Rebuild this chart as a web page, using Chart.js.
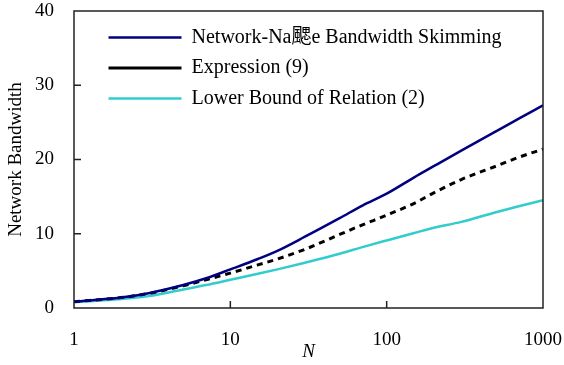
<!DOCTYPE html>
<html>
<head>
<meta charset="utf-8">
<script src="https://cdn.jsdelivr.net/npm/chart.js@4"></script>
<style>
  html, body { margin: 0; padding: 0; background: #fff; }
  #wrap { width: 564px; height: 365px; }
</style>
</head>
<body>
<div id="wrap"><canvas id="myChart"></canvas></div>
<script>
/*global Chart*/

const nValues = [1, 2, 3, 5, 7, 10, 15, 20, 30, 50, 70, 100, 150, 200, 300, 500, 700, 1000];
const naiveValues = [0.85, 1.4, 2.0, 3.1, 4.0, 5.2, 6.6, 7.7, 9.6, 12.1, 13.8, 15.4, 17.6, 19.1, 21.2, 23.8, 25.5, 27.3];
const expressionValues = [0.85, 1.4, 1.95, 3.0, 3.8, 4.7, 5.8, 6.6, 7.9, 9.9, 11.2, 12.5, 14.1, 15.5, 17.3, 19.1, 20.3, 21.4];
const lowerBoundValues = [0.8, 1.2, 1.6, 2.5, 3.1, 3.8, 4.6, 5.2, 6.1, 7.3, 8.2, 9.1, 10.1, 10.8, 11.6, 12.9, 13.7, 14.5];
const xTicks = [1, 10, 100, 1000];
const yTicks = [0, 10, 20, 30, 40];

const serif = "'Liberation Serif', 'Times New Roman', 'Noto Sans CJK TC', serif";

const toPoints = (vals) => nValues.map((n, i) => ({x: n, y: vals[i]}));

const data = {
    datasets: [
        {
            label: 'Network-Na颸e Bandwidth Skimming',
            data: toPoints(naiveValues),
            borderColor: '#000080',
            backgroundColor: '#000080',
            borderWidth: 2.5,
        },
        {
            label: 'Expression (9)',
            data: toPoints(expressionValues),
            borderColor: '#000000',
            backgroundColor: '#000000',
            borderWidth: 3,
            borderDash: [6, 5],
        },
        {
            label: 'Lower Bound of Relation (2)',
            data: toPoints(lowerBoundValues),
            borderColor: '#33CCCC',
            backgroundColor: '#33CCCC',
            borderWidth: 2.5,
        }
    ]
};

// frame, inward ticks, and legend placement
const framePlugin = {
    id: 'frame',
    afterLayout(chart) {
        if (chart.legend) {
            chart.legend.left = chart.chartArea.left + 24;
            chart.legend.top = chart.chartArea.top + 6;
        }
    },
    afterDraw(chart) {
        const {ctx, chartArea: a, scales} = chart;
        ctx.save();
        ctx.strokeStyle = '#222';
        ctx.lineWidth = 1.5;
        ctx.strokeRect(a.left, a.top, a.right - a.left, a.bottom - a.top);
        ctx.beginPath();
        yTicks.slice(1, -1).forEach(v => {
            const y = scales.y.getPixelForValue(v);
            ctx.moveTo(a.left, y);
            ctx.lineTo(a.left + 7, y);
        });
        xTicks.slice(1, -1).forEach(v => {
            const x = scales.x.getPixelForValue(v);
            ctx.moveTo(x, a.bottom);
            ctx.lineTo(x, a.bottom - 7);
        });
        ctx.stroke();
        ctx.restore();
    }
};

const config = {
    type: 'line',
    data: data,
    options: {
        responsive: true,
        maintainAspectRatio: false,
        animation: false,
        layout: {
            padding: 0
        },
        elements: {
            point: {radius: 0},
            line: {cubicInterpolationMode: 'monotone'}
        },
        scales: {
            x: {
                type: 'logarithmic',
                min: 1,
                max: 1000,
                afterBuildTicks: (scale) => {
                    scale.ticks = xTicks.map(v => ({value: v}));
                },
                afterFit: (scale) => {
                    scale.height = 57;
                    scale.paddingRight = 21;
                },
                grid: {display: false},
                border: {display: false},
                ticks: {
                    padding: 13,
                    color: '#000',
                    maxRotation: 0,
                    font: {family: serif, size: 19},
                    callback: (v) => String(v)
                },
                title: {
                    display: true,
                    text: 'N',
                    color: '#000',
                    padding: {top: 0, bottom: 2},
                    font: {family: serif, size: 19, style: 'italic'}
                }
            },
            y: {
                min: 0,
                max: 40,
                afterBuildTicks: (scale) => {
                    scale.ticks = yTicks.map(v => ({value: v}));
                },
                afterFit: (scale) => {
                    scale.width = 74;
                    scale.paddingTop = 11;
                },
                grid: {display: false},
                border: {display: false},
                ticks: {
                    padding: 12,
                    color: '#000',
                    font: {family: serif, size: 19}
                },
                title: {
                    display: true,
                    text: 'Network Bandwidth',
                    color: '#000',
                    padding: {top: 5, bottom: 0},
                    font: {family: serif, size: 19}
                }
            }
        },
        plugins: {
            legend: {
                position: 'chartArea',
                align: 'start',
                labels: {
                    usePointStyle: true,
                    pointStyle: 'line',
                    pointStyleWidth: 73,
                    padding: 10.5,
                    color: '#000',
                    font: {family: serif, size: 20}
                }
            },
            tooltip: {enabled: false}
        }
    },
    plugins: [framePlugin]
};

const graphe = new Chart(document.getElementById('myChart'), config);
</script>
</body>
</html>
